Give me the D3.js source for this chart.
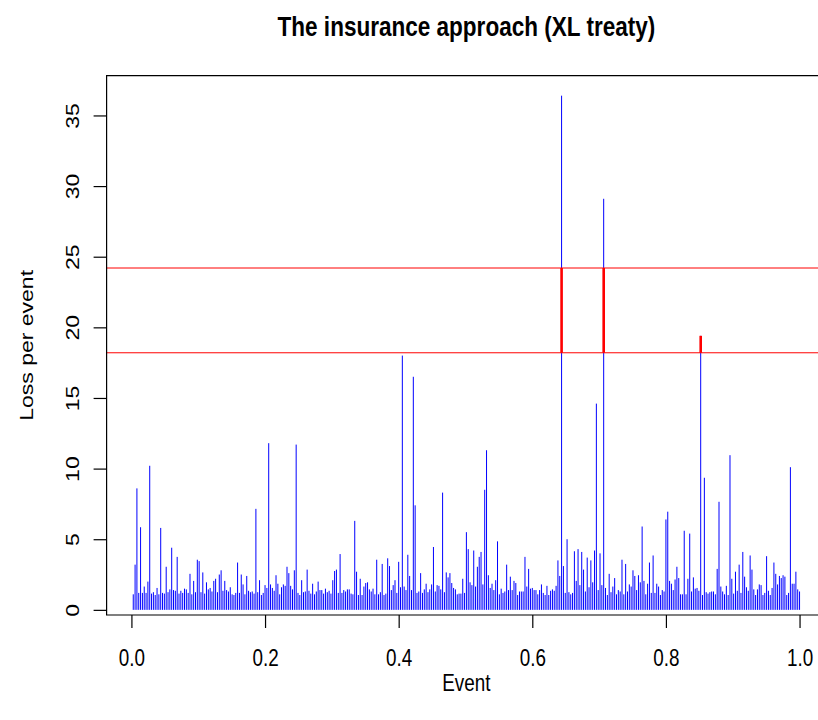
<!DOCTYPE html>
<html>
<head>
<meta charset="utf-8">
<script src="https://cdn.jsdelivr.net/npm/d3@7"></script>
<style>
  html, body { margin: 0; padding: 0; background: #fff; }
  svg { display: block; }
  text { font-family: "Liberation Sans", Arial, Helvetica, sans-serif; fill: #000; }
</style>
</head>
<body>
<svg id="chart" width="818" height="720"></svg>
<script>
// Loss per event (365 events, x = i/365)
const losses = [
  1.1, 3.2, 8.6, 1.2, 5.85, 1.2, 1.65, 1.2, 2.0, 10.2,
  1.15, 1.25, 1.05, 1.55, 1.1, 5.8, 1.2, 1.15, 3.05, 1.25,
  1.45, 4.4, 1.4, 1.35, 3.75, 1.15, 1.35, 1.2, 1.5, 1.45,
  1.2, 2.55, 1.1, 2.05, 1.25, 3.55, 3.45, 1.25, 2.65, 1.15,
  1.95, 1.45, 1.55, 1.3, 2.05, 2.2, 1.25, 2.5, 2.8, 1.35,
  2.05, 1.4, 1.3, 1.6, 1.1, 1.05, 1.2, 3.35, 1.2,
  2.5, 1.8, 1.1, 2.4, 1.35, 1.25, 1.3, 1.15, 7.15, 1.25,
  2.1, 1.05, 1.2, 1.75, 1.55, 11.8, 1.8, 1.55, 1.35, 2.45,
  1.85, 1.1, 1.6, 1.8, 1.7, 3.05, 2.6, 1.7, 1.45, 2.8,
  11.7, 1.2, 1.05, 2.1, 1.25, 1.3, 2.85, 1.35, 1.15, 1.85,
  1.1, 1.3, 2.0, 1.4, 1.4, 1.15, 1.5, 1.25, 1.35, 1.15,
  2.1, 2.75, 2.85, 1.2, 3.95, 1.2, 1.4, 1.3, 1.45, 1.45,
  1.15,
  1.1, 6.3, 2.7, 1.05, 2.2, 1.05, 1.65, 1.9, 1.95, 1.45,
  1.3, 1.5, 1.1, 3.55, 1.1, 1.25, 3.25, 1.05, 1.15, 3.65,
  3.1, 1.4, 1.75, 2.1, 1.2, 3.4, 1.6, 18.0, 1.65, 1.4,
  3.9, 2.4, 1.4, 16.5, 7.4, 1.2, 1.3, 2.6, 1.2, 1.45,
  1.85, 1.25, 1.45, 1.8, 4.45, 1.3, 1.75, 1.7, 1.45, 8.3,
  1.25, 2.65, 2.3, 2.6, 1.9, 1.55, 1.45, 1.1, 1.15, 1.15,
  2.2,
  1.2, 5.5, 4.3, 1.95, 1.75, 4.2, 1.65, 3.05, 3.75, 4.1,
  1.8, 8.5, 11.3, 2.45, 1.55, 1.85, 1.4, 2.1, 4.85, 1.1,
  1.5, 1.2, 1.3, 3.2, 1.4, 2.35, 1.4, 2.05, 1.9, 1.05,
  1.3, 1.3, 1.3, 3.75, 1.65, 2.9, 1.5, 1.55, 1.4, 1.4,
  1.1, 1.4, 1.8, 1.2, 1.05, 1.7, 1.05, 1.35, 1.45, 1.35,
  1.7, 3.5, 2.4, 36.4, 3.1, 1.2, 5.0, 1.25, 1.1, 1.2,
  4.15,
  2.05, 4.3, 1.75, 4.1, 2.85, 1.3, 3.7, 1.6, 3.5, 1.95,
  4.2, 14.6, 1.4, 4.0, 1.75, 29.1, 1.55, 1.05, 2.55, 1.25,
  1.65, 2.25, 1.1, 1.4, 1.3, 3.55, 1.1, 3.25, 1.3, 1.8,
  1.65, 2.8, 2.4, 1.4, 2.45, 1.95, 5.9, 2.05, 1.1, 1.85,
  3.35, 1.2, 3.85, 1.2, 1.85, 1.65, 1.05, 1.4, 1.3, 6.4,
  6.95, 2.05, 1.85, 1.4, 2.15, 3.05, 2.25, 1.1, 1.1, 5.6,
  1.1, 2.2,
  5.4, 1.3, 2.3, 1.5, 1.55, 1.35, 19.4, 1.05, 9.35, 1.25,
  1.15, 1.25, 1.3, 1.3, 1.1, 2.9, 7.65, 1.65, 1.3, 1.1,
  1.7, 1.05, 10.95, 2.2, 1.15, 2.7, 1.35, 3.2, 1.2, 4.1,
  2.35, 1.6, 1.35, 3.85, 2.85, 1.45, 1.05, 1.45, 1.8, 1.75,
  1.05, 1.2, 3.8, 1.35, 1.05, 1.55, 3.35, 2.55, 1.8, 2.4,
  2.25, 2.45, 2.35, 1.05, 1.2, 10.1, 1.85, 1.85, 2.7, 1.45,
  1.3
];
const retention = 18.2;   // XL lower bound
const limit = 24.2;       // XL upper bound
const xTicks = [0, 0.2, 0.4, 0.6, 0.8, 1.0];
const yTicks = [0, 5, 10, 15, 20, 25, 30, 35];
const titleText = "The insurance approach (XL treaty)";
const xLabel = "Event";
const yLabel = "Loss per event";

const n = losses.length;
const events = losses.map((v, i) => ({ x: (i + 1) / n, y: v }));

// R-style 4% extended ranges
const xmin = d3.min(events, d => d.x), xmax = d3.max(events, d => d.x);
const ymin = d3.min(losses), ymax = d3.max(losses);
const xr = xmax - xmin, yr = ymax - ymin;
const plot = { left: 106.6, top: 75.7, right: 826.2, bottom: 615 };
const squeeze = 0.82; // glyphs are narrower than tall in the reference

const x = d3.scaleLinear().domain([xmin - 0.04 * xr, xmax + 0.04 * xr]).range([plot.left, plot.right]);
const y = d3.scaleLinear().domain([ymin - 0.04 * yr, ymax + 0.04 * yr]).range([plot.bottom, plot.top]);

const svg = d3.select("#chart");

// bars (type = "h")
svg.append("g").selectAll("line").data(events).join("line")
  .attr("x1", d => x(d.x)).attr("x2", d => x(d.x))
  .attr("y1", y(0)).attr("y2", d => y(d.y))
  .attr("stroke", "#0000ff").attr("stroke-width", 1);

// XL layer lines
svg.append("g").selectAll("line").data([retention, limit]).join("line")
  .attr("x1", plot.left).attr("x2", 818)
  .attr("y1", d => y(d)).attr("y2", d => y(d))
  .attr("stroke", "#ff0000").attr("stroke-width", 1);

// red layer part of events above retention
svg.append("g").selectAll("line").data(events.filter(d => d.y > retention)).join("line")
  .attr("x1", d => x(d.x)).attr("x2", d => x(d.x))
  .attr("y1", y(retention)).attr("y2", d => y(Math.min(d.y, limit)))
  .attr("stroke", "#ff0000").attr("stroke-width", 2.6);

// box (right side lies off canvas)
svg.append("path")
  .attr("d", `M${plot.right},${plot.top}H${plot.left}V${plot.bottom}H${plot.right}`)
  .attr("fill", "none").attr("stroke", "#000").attr("stroke-width", 1.2);

// x axis
const xAxis = svg.append("g").attr("transform", `translate(0,${plot.bottom})`)
  .call(d3.axisBottom(x).tickValues(xTicks).tickSize(13).tickFormat(d3.format(".1f")));
xAxis.select(".domain").remove();
xAxis.selectAll(".tick line").attr("stroke", "#000").attr("stroke-width", 1.2);
xAxis.selectAll(".tick text")
  .attr("y", 0).attr("dy", null)
  .attr("transform", `translate(0,51) scale(${squeeze},1)`)
  .style("font-size", "23px").style("font-family", "Liberation Sans, Arial, sans-serif");

// y axis
const yAxis = svg.append("g").attr("transform", `translate(${plot.left},0)`)
  .call(d3.axisLeft(y).tickValues(yTicks).tickSize(13).tickFormat(d3.format("d")));
yAxis.select(".domain").remove();
yAxis.selectAll(".tick line").attr("stroke", "#000").attr("stroke-width", 1.2);
yAxis.selectAll(".tick text")
  .attr("x", 0).attr("dy", null).attr("text-anchor", "middle")
  .attr("transform", `translate(-28,0) rotate(-90) scale(1,${squeeze})`)
  .style("font-size", "23px").style("font-family", "Liberation Sans, Arial, sans-serif");

// title & labels
const cx = (plot.left + plot.right) / 2;
svg.append("text").attr("transform", `translate(${cx},36) scale(${squeeze},1)`)
  .attr("text-anchor", "middle").style("font-weight", "bold").style("font-size", "27.5px")
  .text(titleText);
svg.append("text").attr("transform", `translate(${cx},691) scale(${squeeze},1)`)
  .attr("text-anchor", "middle").style("font-size", "23px").text(xLabel);
svg.append("text").attr("transform", `translate(33,${(plot.top + plot.bottom) / 2}) rotate(-90) scale(1,${squeeze})`)
  .attr("text-anchor", "middle").style("font-size", "23px").text(yLabel);
</script>
</body>
</html>
